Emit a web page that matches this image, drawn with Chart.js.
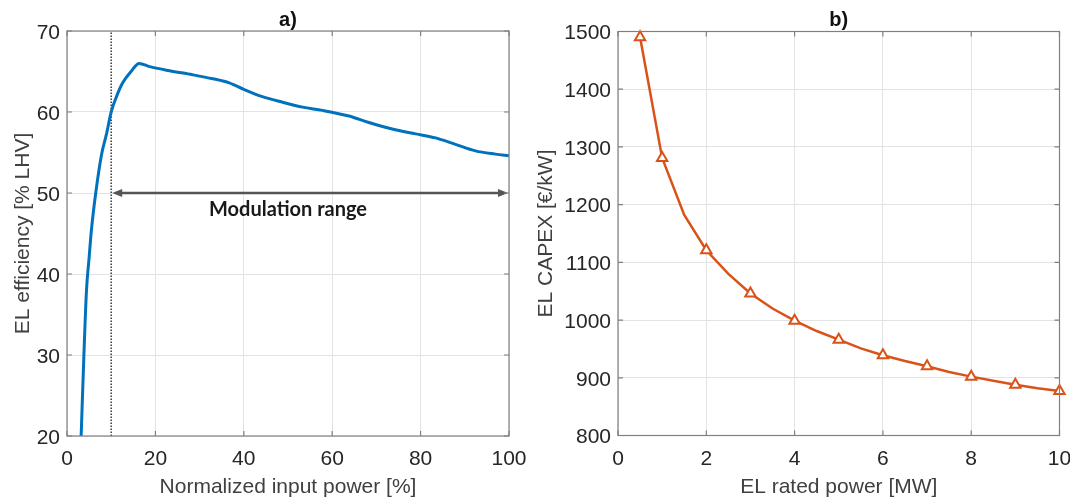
<!DOCTYPE html>
<html>
<head>
<meta charset="utf-8">
<title>Electrolyser efficiency and CAPEX</title>
<script src="https://cdn.jsdelivr.net/npm/chart.js@4.4.1/dist/chart.umd.min.js"></script>
<style>
  html, body { margin: 0; padding: 0; background: #fff; overflow: hidden; }
  #wrap { position: relative; width: 1070px; height: 500px; overflow: hidden; }
  canvas { position: absolute; top: 0; }
  #effChart { left: 0; }
  #capexChart { left: 530px; }
</style>
</head>
<body>
<div id="wrap">
  <canvas id="capexChart" width="560" height="500"></canvas>
  <canvas id="effChart" width="540" height="500"></canvas>
</div>
<script>
// a) efficiency curve vs normalized input power
const effPower = [3.2, 3.8, 4.4, 5.0, 5.5, 6.5, 7.8, 8.9, 10, 11.2, 12.6, 14.5, 16.3, 18.7, 23.2, 28.4,
                  33, 36.7, 40, 44.2, 48.8, 53.3, 57.8, 63.8, 68.3, 73.6, 78.9, 83.4, 87.9, 92.4, 96.9, 100];
const effValue = [20, 29.6, 37.9, 42, 45.3, 50, 54.7, 57.2, 60, 61.9, 63.6, 65, 66, 65.6, 65.1, 64.6,
                  64.1, 63.6, 62.8, 61.9, 61.2, 60.6, 60.2, 59.5, 58.7, 57.9, 57.3, 56.8, 56.0, 55.2, 54.8, 54.6];
const minLoad = 10;          // lower limit of the modulation range [%]
const maxLoad = 100;
const rangeLevel = 50;       // height of the range arrow
const rangeLabel = 'Modulation range';
const effTicksX = [0, 20, 40, 60, 80, 100];
const effTicksY = [20, 30, 40, 50, 60, 70];

// b) specific CAPEX vs rated power
const ratedPower = [0.5, 1, 1.5, 2, 2.5, 3, 3.5, 4, 4.5, 5, 5.5, 6, 6.5, 7, 7.5, 8, 8.5, 9, 9.5, 10];
const capexValue = [1490, 1281, 1182, 1121, 1080, 1046, 1020, 999, 981, 966, 951, 939, 929, 920, 910, 902, 895, 888, 882, 877];
const markerPower = [0.5, 1, 2, 3, 4, 5, 6, 7, 8, 9, 10];
const capexTicksX = [0, 2, 4, 6, 8, 10];
const capexTicksY = [800, 900, 1000, 1100, 1200, 1300, 1400, 1500];

const FONT = '"Liberation Sans", Arial, Helvetica, sans-serif';
const BLUE = '#0072BD';
const ORANGE = '#D95319';
const FRAME = '#808080';

// box around the plot area, inward tick marks and the panel letter
const panelFrame = {
  id: 'panelFrame',
  afterDraw(chart, args, opts) {
    const { ctx, chartArea: a, scales } = chart;
    ctx.save();
    ctx.strokeStyle = FRAME;
    ctx.lineWidth = 1.2;
    ctx.strokeRect(a.left, a.top, a.right - a.left, a.bottom - a.top);
    const len = 5;
    ctx.beginPath();
    scales.x.ticks.forEach(t => {
      const px = scales.x.getPixelForValue(t.value);
      ctx.moveTo(px, a.bottom); ctx.lineTo(px, a.bottom - len);
      ctx.moveTo(px, a.top); ctx.lineTo(px, a.top + len);
    });
    scales.y.ticks.forEach(t => {
      const py = scales.y.getPixelForValue(t.value);
      ctx.moveTo(a.left, py); ctx.lineTo(a.left + len, py);
      ctx.moveTo(a.right, py); ctx.lineTo(a.right - len, py);
    });
    ctx.stroke();
    ctx.fillStyle = '#111';
    ctx.font = 'bold 20px ' + FONT;
    ctx.textAlign = 'center';
    ctx.textBaseline = 'middle';
    ctx.fillText(opts.label, (a.left + a.right) / 2, 20);
    ctx.restore();
  }
};

// double-headed arrow for the modulation range
const rangeArrow = {
  id: 'rangeArrow',
  afterDatasetsDraw(chart) {
    const { ctx, scales: { x, y } } = chart;
    const x0 = x.getPixelForValue(minLoad) + 1;
    const x1 = x.getPixelForValue(maxLoad) - 1;
    const py = y.getPixelForValue(rangeLevel);
    const head = 10, half = 4;
    ctx.save();
    ctx.strokeStyle = '#555';
    ctx.fillStyle = '#555';
    ctx.lineWidth = 2.5;
    ctx.beginPath();
    ctx.moveTo(x0 + head - 2, py);
    ctx.lineTo(x1 - head + 2, py);
    ctx.stroke();
    ctx.beginPath();
    ctx.moveTo(x0, py); ctx.lineTo(x0 + head, py - half); ctx.lineTo(x0 + head, py + half);
    ctx.closePath(); ctx.fill();
    ctx.beginPath();
    ctx.moveTo(x1, py); ctx.lineTo(x1 - head, py - half); ctx.lineTo(x1 - head, py + half);
    ctx.closePath(); ctx.fill();
    ctx.fillStyle = '#1a1a1a';
    ctx.font = 'bold 20px Lato, "Open Sans", sans-serif';
    ctx.textAlign = 'center';
    ctx.textBaseline = 'middle';
    ctx.fillText(rangeLabel, x.getPixelForValue(maxLoad / 2), y.getPixelForValue(48));
    ctx.restore();
  }
};

function axis(min, max, ticks, title, fit, titlePad, isY) {
  return {
    type: 'linear',
    min: min,
    max: max,
    afterBuildTicks: s => { s.ticks = ticks.map(v => ({ value: v })); },
    afterFit: s => { if (isY) s.width = fit; else s.height = fit; },
    border: { display: false },
    grid: { color: '#e3e3e3', lineWidth: 1, drawTicks: false },
    ticks: {
      autoSkip: false,
      maxRotation: 0,
      padding: isY ? 7 : 11,
      labelOffset: isY ? 2 : 0,
      color: '#262626',
      font: { family: FONT, size: 21 },
      callback: v => String(v)
    },
    title: {
      display: true,
      text: title,
      color: '#404040',
      font: { family: FONT, size: 21 },
      padding: isY ? { top: titlePad, bottom: 0 } : { top: 0, bottom: titlePad }
    }
  };
}

const baseOptions = {
  responsive: false,
  animation: false,
  plugins: { legend: { display: false }, tooltip: { enabled: false } }
};

new Chart(document.getElementById('effChart'), {
  type: 'line',
  data: {
    datasets: [
      {
        data: effPower.map((p, i) => ({ x: p, y: effValue[i] })),
        borderColor: BLUE,
        borderWidth: 3,
        pointRadius: 0,
        cubicInterpolationMode: 'monotone'
      },
      {
        // lower bound of the modulation range
        data: [{ x: minLoad, y: effTicksY[0] }, { x: minLoad, y: effTicksY[effTicksY.length - 1] }],
        borderColor: '#3a3a3a',
        borderWidth: 1.5,
        borderDash: [1.5, 1.5],
        pointRadius: 0
      }
    ]
  },
  options: Object.assign({}, baseOptions, {
    layout: { padding: { top: 31, right: 31, left: 0, bottom: 0 } },
    plugins: Object.assign({}, baseOptions.plugins, { panelFrame: { label: 'a)' } }),
    scales: {
      x: axis(0, 100, effTicksX, 'Normalized input power [%]', 64, 0, false),
      y: axis(20, 70, effTicksY, 'EL efficiency [% LHV]', 67, 11, true)
    }
  }),
  plugins: [panelFrame, rangeArrow]
});

new Chart(document.getElementById('capexChart'), {
  type: 'line',
  data: {
    datasets: [{
      data: ratedPower.map((p, i) => ({ x: p, y: capexValue[i] })),
      borderColor: ORANGE,
      borderWidth: 2.5,
      tension: 0,
      clip: false,
      pointStyle: 'triangle',
      pointRadius: ctx => markerPower.includes(ratedPower[ctx.dataIndex]) ? 6 : 0,
      pointBorderColor: ORANGE,
      pointBackgroundColor: '#fff',
      pointBorderWidth: 2
    }]
  },
  options: Object.assign({}, baseOptions, {
    layout: { padding: { top: 31.5, right: 30.5, left: 0, bottom: 0 } },
    plugins: Object.assign({}, baseOptions.plugins, { panelFrame: { label: 'b)' } }),
    scales: {
      x: axis(0, 10, capexTicksX, 'EL rated power [MW]', 64.5, 0, false),
      y: axis(800, 1500, capexTicksY, 'EL CAPEX [€/kW]', 88, 3.5, true)
    }
  }),
  plugins: [panelFrame]
});
</script>
</body>
</html>
